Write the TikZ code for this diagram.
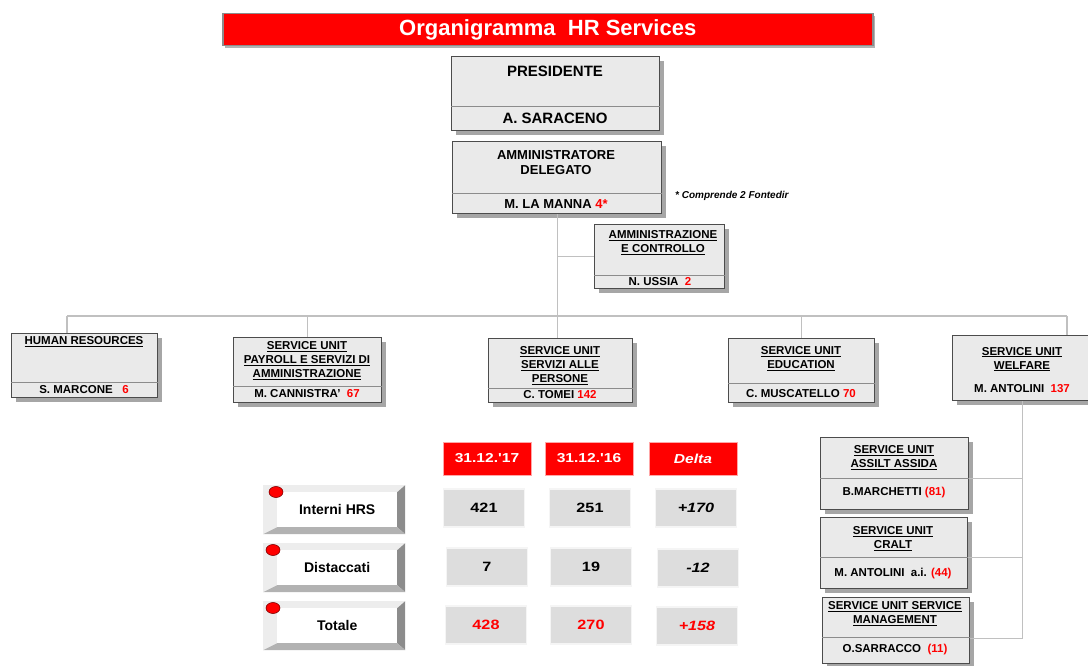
\documentclass[tikz,border=0pt]{standalone}
\usepackage{fontspec}
\setmainfont{Liberation Sans}
\newfontfamily\widesans{Liberation Sans}[FakeStretch=1.2]
\usetikzlibrary{positioning,shadows,shapes.geometric}

\definecolor{hrred}{RGB}{255,0,0}
\definecolor{boxgray}{RGB}{234,234,234}
\definecolor{cellgray}{RGB}{221,221,221}
\definecolor{linkgray}{RGB}{192,192,192}

\tikzset{
  unitbox/.style={rectangle, draw=black!70, line width=1.3pt, fill=boxgray, anchor=north west, inner sep=0pt,
    drop shadow={shadow xshift=4pt, shadow yshift=-4pt, fill=black!35, opacity=1}},
  unittext/.style={align=center, inner sep=0pt, font=\bfseries\fontsize{11.5}{14}\selectfont},
  divline/.style={draw=black!45, line width=0.9pt},
  link/.style={draw=linkgray, line width=1.2pt},
  headcell/.style={rectangle, fill=hrred, draw=red!35, line width=1pt, text=white, minimum width=88pt, minimum height=33pt,
    font=\widesans\bfseries\fontsize{13}{15}\selectfont},
  valcell/.style={rectangle, fill=cellgray, draw=black!4, line width=1.5pt, minimum width=81pt, minimum height=38pt,
    font=\widesans\bfseries\fontsize{13.5}{15}\selectfont},
  bevelbtn/.style={rectangle, fill=black!7, minimum width=142pt, minimum height=49pt, anchor=north west, inner sep=0pt,
    font=\bfseries\fontsize{14}{16}\selectfont,
    path picture={
      \fill[black!45] (path picture bounding box.north east) -- (path picture bounding box.south east)
        -- ([xshift=-8pt,yshift=7pt]path picture bounding box.south east) -- ([xshift=-8pt,yshift=-7pt]path picture bounding box.north east) -- cycle;
      \fill[black!30] (path picture bounding box.south west) -- (path picture bounding box.south east)
        -- ([xshift=-8pt,yshift=7pt]path picture bounding box.south east) -- ([xshift=14pt,yshift=7pt]path picture bounding box.south west) -- cycle;
      \fill[white] ([xshift=14pt,yshift=7pt]path picture bounding box.south west) rectangle ([xshift=-8pt,yshift=-7pt]path picture bounding box.north east);
    }},
  reddot/.style={ellipse, fill=hrred, draw=red!50!black, line width=0.6pt, minimum width=14pt, minimum height=11pt, inner sep=0pt}
}

\begin{document}
\begin{tikzpicture}[x=1pt, y=-1pt]

\useasboundingbox (0,0) rectangle (1088,666);

%% title bar
\node at (222,13) [rectangle, draw=black!45, line width=1.5pt, fill=hrred, minimum width=650pt, minimum height=32pt, anchor=north west,
  drop shadow={shadow xshift=2pt, shadow yshift=-2pt, fill=black!30, opacity=1},
  text=white, font=\bfseries\fontsize{22}{24}\selectfont] (title) {Organigramma\ \ HR Services};

%% top of the chart
\node at (451,56) [unitbox, minimum width=208pt, minimum height=74pt] (pres) {};
\draw [divline] (pres.west |- 0,106) -- (pres.east |- 0,106);
\node at (555,71) [unittext, font=\bfseries\fontsize{15}{17}\selectfont] (presT) {PRESIDENTE};
\node at (555,118) [unittext, font=\bfseries\fontsize{15}{17}\selectfont] (presN) {A. SARACENO};

\node at (452,141) [unitbox, minimum width=209pt, minimum height=72pt] (ad) {};
\draw [divline] (ad.west |- 0,193) -- (ad.east |- 0,193);
\node at (556,162.5) [unittext, font=\bfseries\fontsize{13}{15}\selectfont] (adT) {AMMINISTRATORE\\DELEGATO};
\node at (556,204) [unittext, font=\bfseries\fontsize{13}{15}\selectfont] (adN) {M. LA MANNA \textcolor{hrred}{4*}};
\node at (675,196) [anchor=west, inner sep=0pt, font=\bfseries\itshape\fontsize{10}{12}\selectfont] (note) {* Comprende 2 Fontedir};

\node at (594,224) [unitbox, minimum width=130pt, minimum height=64pt] (ac) {};
\draw [divline] (ac.west |- 0,275) -- (ac.east |- 0,275);
\node at (663,243) [unittext] (acT) {\underline{AMMINISTRAZIONE}\\\underline{E CONTROLLO}};
\node at (660,282) [unittext] (acN) {N. USSIA\ \ \textcolor{hrred}{2}};

%% service units
\node at (11,333) [unitbox, minimum width=146pt, minimum height=64pt] (hr) {};
\draw [divline] (hr.west |- 0,382) -- (hr.east |- 0,382);
\node at (84,342) [unittext] (hrT) {\underline{HUMAN RESOURCES}};
\node at (84,390) [unittext] (hrN) {S. MARCONE\ \ \ \textcolor{hrred}{6}};

\node at (233,337) [unitbox, minimum width=148pt, minimum height=65pt] (pay) {};
\draw [divline] (pay.west |- 0,386) -- (pay.east |- 0,386);
\node at (307,361) [unittext] (payT) {\underline{SERVICE UNIT}\\\underline{PAYROLL E SERVIZI DI}\\\underline{AMMINISTRAZIONE}};
\node at (307,393.5) [unittext] (payN) {M. CANNISTRA'\ \ \textcolor{hrred}{67}};

\node at (488,338) [unitbox, minimum width=144pt, minimum height=64pt] (tomei) {};
\draw [divline] (tomei.west |- 0,388) -- (tomei.east |- 0,388);
\node at (560,366) [unittext] (tomeiT) {\underline{SERVICE UNIT}\\\underline{SERVIZI ALLE}\\\underline{PERSONE}};
\node at (560,395) [unittext] (tomeiN) {C. TOMEI \textcolor{hrred}{142}};

\node at (728,338) [unitbox, minimum width=146pt, minimum height=64pt] (edu) {};
\draw [divline] (edu.west |- 0,383) -- (edu.east |- 0,383);
\node at (801,359) [unittext] (eduT) {\underline{SERVICE UNIT}\\\underline{EDUCATION}};
\node at (801,394) [unittext] (eduN) {C. MUSCATELLO \textcolor{hrred}{70}};

\node at (952,335) [unitbox, minimum width=140pt, minimum height=65pt] (welf) {};
\node at (1022,359) [unittext] (welfT) {\underline{SERVICE UNIT}\\\underline{WELFARE}};
\node at (1022,389) [unittext] (welfN) {M. ANTOLINI\ \ \textcolor{hrred}{137}};

%% welfare sub units
\node at (820,437) [unitbox, minimum width=148pt, minimum height=72pt] (assilt) {};
\draw [divline] (assilt.west |- 0,478) -- (assilt.east |- 0,478);
\node at (894,458) [unittext] (assiltT) {\underline{SERVICE UNIT}\\\underline{ASSILT ASSIDA}};
\node at (894,493) [unittext] (assiltN) {B.MARCHETTI \textcolor{hrred}{(81)}};

\node at (820,517) [unitbox, minimum width=147pt, minimum height=71pt] (cralt) {};
\draw [divline] (cralt.west |- 0,557) -- (cralt.east |- 0,557);
\node at (893,538.5) [unittext] (craltT) {\underline{SERVICE UNIT}\\\underline{CRALT}};
\node at (893,574) [unittext] (craltN) {M. ANTOLINI\ \ a.i. \textcolor{hrred}{(44)}};

\node at (822,597) [unitbox, minimum width=147pt, minimum height=66pt] (sman) {};
\draw [divline] (sman.west |- 0,637) -- (sman.east |- 0,637);
\node at (895,614) [unittext] (smanT) {\underline{SERVICE UNIT SERVICE}\\\underline{MANAGEMENT}};
\node at (895,650) [unittext] (smanN) {O.SARRACCO\ \ \textcolor{hrred}{(11)}};

%% connectors
\coordinate (busL) at (67,316);
\coordinate (busR) at (1067,316);
\draw [link] (busL) -- (busR);
\draw [link] (ad.south) -- (ad.south |- tomei.north);
\draw [link] (ad.south |- ac.west) -- (ac.west);
\draw [link] (busL) -- (busL |- hr.north);
\draw [link] (busL -| pay.north) -- (pay.north);
\draw [link] (busL -| edu.north) -- (edu.north);
\draw [link] (busR) -- (busR |- welf.north);
\draw [link] ([yshift=-5pt]assilt.east) -| (welf.south);
\draw [link] ([yshift=-4.5pt]cralt.east) -| (welf.south);
\draw [link] ([yshift=-7.5pt]sman.east) -| (welf.south);

%% table
\node at (487,458.5) [headcell] (h17) {31.12.'17};
\node at (589,458.5) [headcell] (h16) {31.12.'16};
\node at (693,458.5) [headcell, font=\widesans\bfseries\itshape\fontsize{13}{15}\selectfont] (hdelta) {Delta};

\node at (263,485) [bevelbtn] (interni) {\hspace{6pt}Interni HRS};
\node at (263,543) [bevelbtn] (distacc) {\hspace{6pt}Distaccati};
\node at (263,601) [bevelbtn] (totale) {\hspace{6pt}Totale};
\node at (276,492) [reddot] (dotA) {};
\node at (273,550) [reddot] (dotB) {};
\node at (273,608) [reddot] (dotC) {};

\node at (484,508) [valcell] (v17a) {421};
\node at (590,508) [valcell] (v16a) {251};
\node at (696,508) [valcell, font=\widesans\bfseries\itshape\fontsize{13.5}{15}\selectfont] (vda) {+170};

\node at (487,567) [valcell] (v17b) {7};
\node at (591,567) [valcell] (v16b) {19};
\node at (698,568) [valcell, font=\widesans\bfseries\itshape\fontsize{13.5}{15}\selectfont] (vdb) {-12};

\node at (486,625) [valcell, text=hrred] (v17c) {428};
\node at (591,625) [valcell, text=hrred] (v16c) {270};
\node at (697,626) [valcell, text=hrred, font=\widesans\bfseries\itshape\fontsize{13.5}{15}\selectfont] (vdc) {+158};

\end{tikzpicture}
\end{document}
